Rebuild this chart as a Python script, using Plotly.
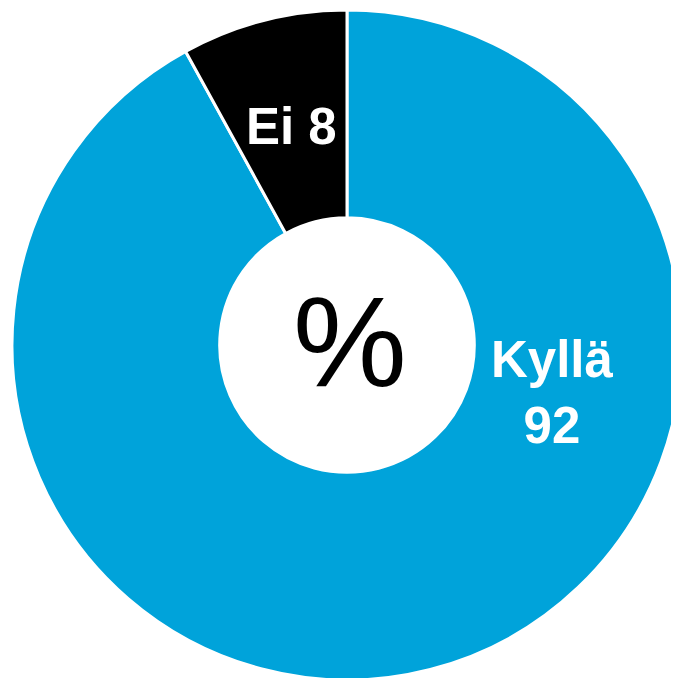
import plotly.graph_objects as go

labels = ["Kyllä", "Ei"]
values = [92, 8]
colors = ["#00A3DA", "#000000"]
label_text = ["<b>Kyllä<br>92</b>", "<b>Ei 8</b>"]
label_pos = [(552, 392), (291, 126)]  # pixel centers of labels (window coords)

W, H = 679, 678
OFF = 8  # page body margin

fig = go.Figure(go.Pie(
    labels=labels, values=values, hole=0.38, sort=False, direction="clockwise",
    rotation=0, marker=dict(colors=colors, line=dict(color="white", width=3)),
    textinfo="none", hoverinfo="label+value", showlegend=False,
    domain=dict(x=[4 / W, 674 / W], y=[6 / H, 1 - 2 / H]),
))

annotations = []
for t, (px, py) in zip(label_text, label_pos):
    annotations.append(dict(text=t, x=(px - OFF) / W, y=1 - (py - OFF) / H, xref="paper", yref="paper",
                            showarrow=False, font=dict(family="Liberation Sans, Arial", size=51, color="white"),
                            xanchor="center", yanchor="middle"))
annotations.append(dict(text="%", x=(350 - OFF) / W, y=1 - (342 - OFF) / H, xref="paper", yref="paper",
                        showarrow=False, font=dict(family="Liberation Sans, Arial", size=128, color="black"),
                        xanchor="center", yanchor="middle"))

fig.update_layout(width=W, height=H, margin=dict(l=0, r=0, t=0, b=0),
                  paper_bgcolor="white", plot_bgcolor="white", annotations=annotations)
fig.write_html("out.html")
